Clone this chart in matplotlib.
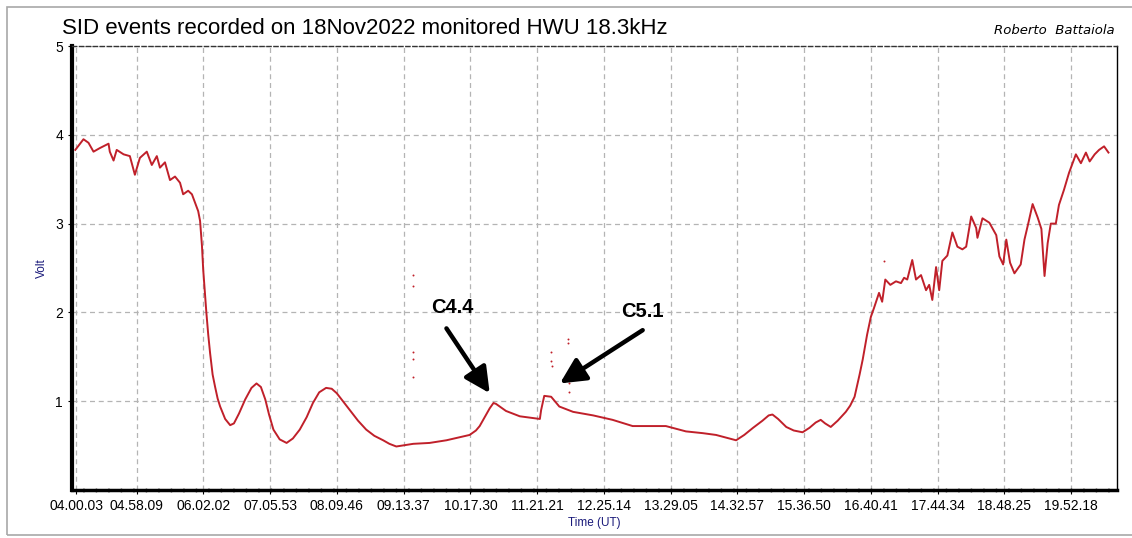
import matplotlib.pyplot as plt
from matplotlib.patches import Rectangle

plt.rcParams['font.family'] = ['Liberation Sans', 'DejaVu Sans']

# time of day in hours (UT) and signal in volt
hours = [3.99, 4.12, 4.20, 4.28, 4.38, 4.52, 4.54, 4.60, 4.65, 4.76, 4.86, 4.94,
         5.02, 5.13, 5.21, 5.29, 5.34, 5.42, 5.50, 5.58, 5.66, 5.71, 5.79, 5.85,
         5.95, 5.98, 6.01, 6.03, 6.06, 6.08, 6.11, 6.14, 6.18, 6.22, 6.26, 6.30,
         6.38, 6.46, 6.52, 6.60, 6.70, 6.80, 6.88, 6.95, 7.02, 7.08, 7.15, 7.25,
         7.36, 7.46, 7.57, 7.68, 7.78, 7.88, 7.99, 8.08, 8.16, 8.27, 8.37, 8.50,
         8.63, 8.76, 8.90, 9.00, 9.11, 9.38, 9.64, 9.91, 10.28, 10.38, 10.44,
         10.52, 10.60, 10.66, 10.70, 10.78, 10.86, 11.08, 11.40, 11.42, 11.47,
         11.58, 11.71, 11.93, 12.25, 12.56, 12.88, 13.41, 13.73, 14.00, 14.21,
         14.53, 14.66, 14.80, 14.95, 15.05, 15.11, 15.20, 15.33, 15.45, 15.59,
         15.70, 15.80, 15.88, 15.95, 16.04, 16.15, 16.28, 16.35, 16.42, 16.50,
         16.55, 16.62, 16.68, 16.73, 16.81, 16.86, 16.91, 16.99, 17.08, 17.16,
         17.21, 17.26, 17.34, 17.40, 17.48, 17.56, 17.61, 17.66, 17.72, 17.77,
         17.82, 17.90, 17.98, 18.06, 18.14, 18.20, 18.28, 18.36, 18.38, 18.46,
         18.57, 18.68, 18.73, 18.79, 18.84, 18.90, 18.97, 19.07, 19.13, 19.19,
         19.26, 19.34, 19.40, 19.45, 19.50, 19.55, 19.63, 19.68, 19.76, 19.84,
         19.95, 20.03, 20.11, 20.17, 20.25, 20.32, 20.40, 20.47]
volts = [3.83, 3.95, 3.91, 3.81, 3.85, 3.90, 3.81, 3.71, 3.83, 3.78, 3.76, 3.55,
         3.74, 3.81, 3.66, 3.76, 3.63, 3.69, 3.49, 3.53, 3.46, 3.33, 3.37, 3.33,
         3.14, 3.03, 2.75, 2.48, 2.20, 2.00, 1.75, 1.54, 1.30, 1.16, 1.03, 0.94,
         0.80, 0.73, 0.75, 0.86, 1.02, 1.15, 1.20, 1.16, 1.02, 0.85, 0.68, 0.57,
         0.53, 0.58, 0.68, 0.82, 0.98, 1.10, 1.15, 1.14, 1.09, 0.99, 0.90, 0.78,
         0.68, 0.61, 0.56, 0.52, 0.49, 0.52, 0.53, 0.56, 0.62, 0.67, 0.72,
         0.82, 0.92, 0.98, 0.97, 0.93, 0.89, 0.83, 0.80, 0.90, 1.06,
         1.05, 0.94, 0.88, 0.84, 0.79, 0.72, 0.72, 0.66, 0.64, 0.62,
         0.56, 0.62, 0.70, 0.78, 0.84, 0.85, 0.80, 0.71, 0.67, 0.65,
         0.70, 0.76, 0.79, 0.75, 0.71, 0.78, 0.88, 0.95, 1.05, 1.30,
         1.47, 1.75, 1.95, 2.05, 2.22, 2.12, 2.37, 2.31, 2.35, 2.33,
         2.39, 2.37, 2.59, 2.37, 2.42, 2.25, 2.31, 2.14, 2.51, 2.25,
         2.58, 2.64, 2.90, 2.74, 2.71, 2.74, 3.08, 2.95, 2.84, 3.06,
         3.01, 2.87, 2.63, 2.54, 2.82, 2.56, 2.44, 2.54, 2.82, 3.00,
         3.22, 3.07, 2.94, 2.41, 2.78, 3.00, 3.00, 3.21, 3.38, 3.57,
         3.78, 3.68, 3.80, 3.70, 3.78, 3.83, 3.87, 3.80]

# isolated spikes
spike_hours = [9.38, 9.38, 9.38, 9.38, 9.38, 11.58, 11.58, 11.60, 11.85, 11.85, 11.87, 11.87, 16.89]
spike_volts = [2.42, 2.30, 1.55, 1.48, 1.27, 1.55, 1.45, 1.40, 1.70, 1.65, 1.20, 1.10, 2.58]

tick_labels = ['04.00.03', '04.58.09', '06.02.02', '07.05.53', '08.09.46', '09.13.37',
               '10.17.30', '11.21.21', '12.25.14', '13.29.05', '14.32.57', '15.36.50',
               '16.40.41', '17.44.34', '18.48.25', '19.52.18']
tick_hours = [int(t[0:2]) + int(t[3:5]) / 60 + int(t[6:8]) / 3600 for t in tick_labels]

# flares: label, text position, arrow tail, arrow head
flares = [('C4.4', (10.01, 2.05), (9.91, 1.82), (10.60, 1.09)),
          ('C5.1', (13.04, 2.01), (13.04, 1.80), (11.72, 1.20))]

fig = plt.figure(figsize=(11.32, 5.38), dpi=100)
fig.patches.append(Rectangle((7 / 1132, 3 / 538), 1.2, 528 / 538, transform=fig.transFigure,
                             fill=False, edgecolor='#a8a8a8', lw=1.2))
ax = fig.add_axes([72 / 1132, 48 / 538, 1045 / 1132, 444 / 538])

ax.plot(hours, volts, color='#c0202a', lw=1.4)
ax.scatter(spike_hours, spike_volts, s=2, color='#c0202a', lw=0)

for name, txt, tail, head in flares:
    ax.text(txt[0], txt[1], name, fontsize=14.5, fontweight='bold', ha='center', va='center')
    ax.annotate('', xy=head, xytext=tail,
                arrowprops=dict(arrowstyle='-|>,head_length=0.7,head_width=0.35', lw=3.2,
                                mutation_scale=22, color='black', shrinkA=0, shrinkB=0))

ax.set_xlim(3.937, 20.606)
ax.set_ylim(0, 5)
ax.set_xticks(tick_hours)
ax.set_xticklabels(tick_labels)
ax.set_yticks([1, 2, 3, 4, 5])
ax.tick_params(labelsize=10, length=3, color='black')
ax.grid(True, color='#b4b4b4', linestyle=(0, (4, 3)), lw=0.9)

ax.spines['left'].set_linewidth(3)
ax.spines['bottom'].set_linewidth(2.5)
ax.spines['bottom'].set_linestyle((0, (3, 0.6)))
ax.spines['top'].set_linestyle((0, (3, 2)))
ax.spines['top'].set_linewidth(1)
ax.spines['top'].set_color('#333333')
ax.spines['right'].set_linewidth(1)

ax.set_ylabel('Volt', color='#1a1a7a', fontsize=8.5, labelpad=5)
ax.set_xlabel('Time (UT)', color='#1a1a7a', fontsize=8.5, labelpad=3)

fig.text(62 / 1132, 1 - 29 / 538, 'SID events recorded on 18Nov2022 monitored HWU 18.3kHz',
         fontsize=16, va='center', ha='left')
fig.text(1115 / 1132, 1 - 30 / 538, 'Roberto  Battaiola', fontsize=9.5, style='italic',
         family='DejaVu Sans', va='center', ha='right')

fig.savefig('out.png', dpi=100)
